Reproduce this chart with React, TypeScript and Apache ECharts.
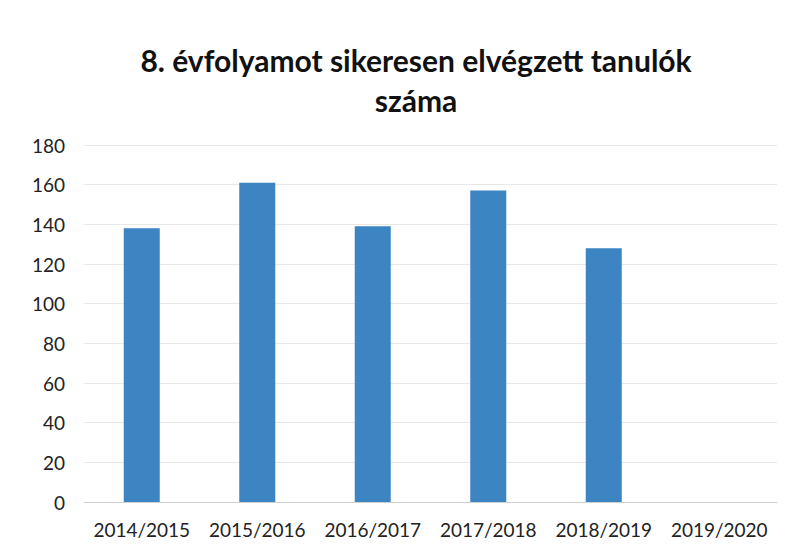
import React, { useEffect, useRef } from "react";
import * as echarts from "echarts";

const titleLines = ["8. évfolyamot sikeresen elvégzett tanulók", "száma"];
const categories = ["2014/2015", "2015/2016", "2016/2017", "2017/2018", "2018/2019", "2019/2020"];
const values = [138, 161, 139, 157, 128, 0];
const yTicks = { min: 0, max: 180, interval: 20 };

export default function App() {
  const ref = useRef<HTMLDivElement>(null);
  useEffect(() => {
    if (!ref.current) return;
    const chart = echarts.init(ref.current, null, { renderer: "svg" });
    chart.setOption({
      animation: false,
      backgroundColor: "#ffffff",
      title: {
        text: titleLines.join("\n"),
        left: 411,
        textAlign: "center",
        top: 35,
        textStyle: {
          fontFamily: "Lato",
          fontWeight: "bold",
          fontSize: 30,
          lineHeight: 40,
          color: "#111111",
        },
      },
      grid: { left: 84, right: 15, top: 145, bottom: 58, containLabel: false },
      xAxis: {
        type: "category",
        data: categories,
        axisLine: { show: true, lineStyle: { color: "#d0d0d0", width: 1 } },
        axisTick: { show: false },
        axisLabel: {
          fontFamily: "Lato",
          fontSize: 19,
          color: "#222222",
          margin: 18,
          interval: 0,
        },
      },
      yAxis: {
        type: "value",
        min: yTicks.min,
        max: yTicks.max,
        interval: yTicks.interval,
        axisLine: { show: false },
        axisTick: { show: false },
        splitLine: { lineStyle: { color: "#e8e8e8", width: 1 } },
        axisLabel: {
          fontFamily: "Lato",
          fontSize: 19,
          color: "#222222",
          margin: 19,
        },
      },
      series: [
        {
          type: "bar",
          data: values,
          barWidth: 36,
          itemStyle: { color: "#3d84c3" },
        },
      ],
    });
    return () => chart.dispose();
  }, []);
  return <div ref={ref} style={{ width: 792, height: 560, position: "absolute", left: 0, top: 0 }} />;
}
